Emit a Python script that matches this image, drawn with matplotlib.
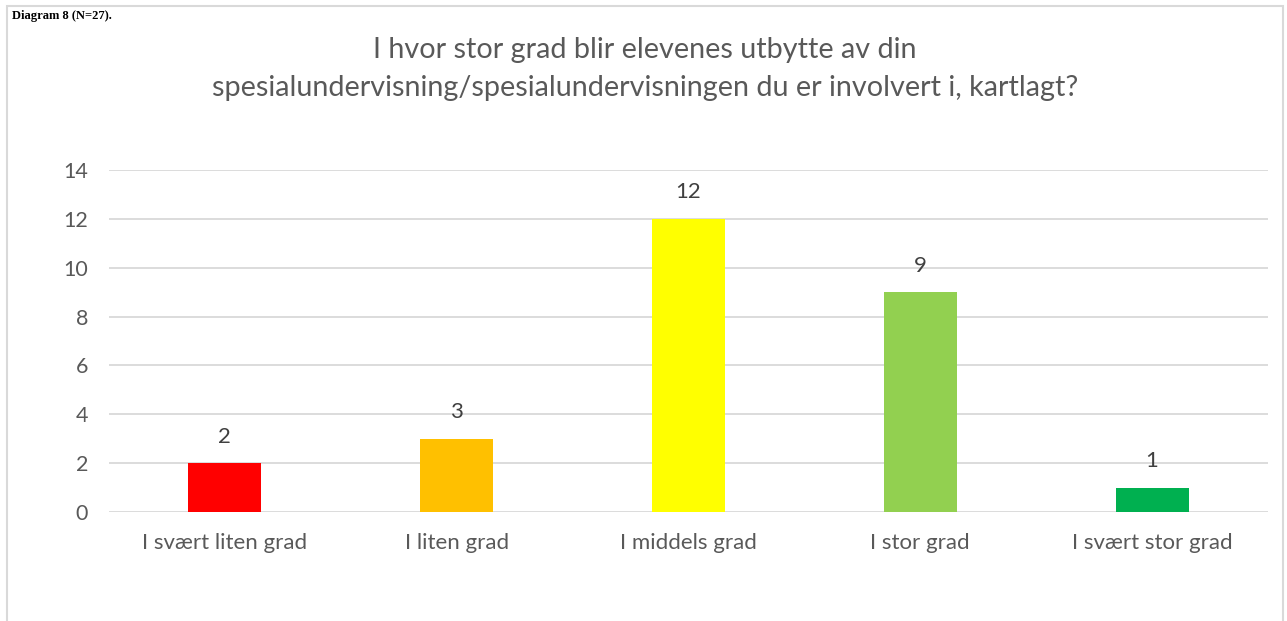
import matplotlib
matplotlib.use("Agg")
import matplotlib.pyplot as plt
from matplotlib.patches import Rectangle

categories = ["I svært liten grad", "I liten grad", "I middels grad", "I stor grad", "I svært stor grad"]
values = [2, 3, 12, 9, 1]
colors = ["#FF0000", "#FFC000", "#FFFF00", "#92D050", "#00B050"]
yticks = [0, 2, 4, 6, 8, 10, 12, 14]
title = "I hvor stor grad blir elevenes utbytte av din\nspesialundervisning/spesialundervisningen du er involvert i, kartlagt?"

W, H = 1287, 621
fig = plt.figure(figsize=(W / 100, H / 100), dpi=100)
plt.rcParams['font.family'] = ['Lato', 'DejaVu Sans']

# chart frame
fig.patches.append(Rectangle((7 / W, -0.05), (1283 - 7) / W, (H - 6) / H + 0.05,
                             transform=fig.transFigure, fill=False,
                             edgecolor="#D9D9D9", linewidth=1.5))
fig.text(12 / W, 1 - 19 / H, "Diagram 8 (N=27).", fontsize=9, fontweight='bold',
         family='Liberation Serif', va='baseline', ha='left', color='black')

left, right = 109, 1268
bottom, top = 512, 170
ax = fig.add_axes([left / W, 1 - bottom / H, (right - left) / W, (bottom - top) / H])
x = range(len(categories))
bars = ax.bar(x, values, width=0.315, color=colors, zorder=3)
ax.set_xlim(-0.5, len(categories) - 0.5)
ax.set_ylim(0, 14)
ax.set_yticks(yticks)
ax.set_xticks(list(x))
ax.set_xticklabels(categories)
ax.grid(axis='y', color="#D9D9D9", linewidth=1.3, zorder=0)
for s in ax.spines.values():
    s.set_visible(False)
ax.tick_params(axis='both', length=0, labelsize=16, colors="#595959")
ax.tick_params(axis='x', pad=15)
ax.tick_params(axis='y', labelsize=15.5, pad=15)
for b, v in zip(bars, values):
    ax.annotate(str(v), (b.get_x() + b.get_width() / 2, v), xytext=(0, 19),
                textcoords='offset points', ha='center', va='center',
                fontsize=16, color="#404040")

fig.text(645 / W, 1 - 69 / H, title, ha='center', va='center', fontsize=20.7,
         color="#595959", linespacing=1.6)

fig.savefig("out.png", dpi=100)
